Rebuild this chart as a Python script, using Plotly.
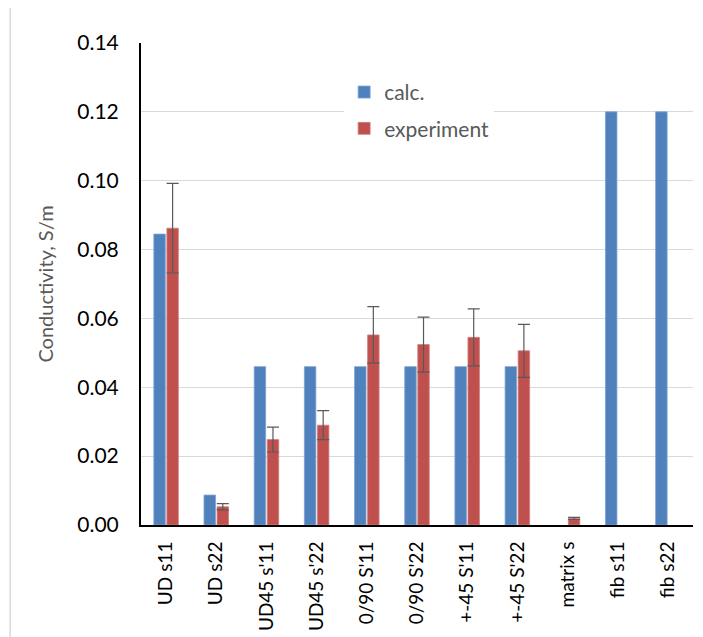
import plotly.graph_objects as go

categories = ["UD s11", "UD s22", "UD45 s'11", "UD45 s'22", "0/90 S'11", "0/90 S'22",
              "+-45 S'11", "+-45 S'22", "matrix s", "fib s11", "fib s22"]
calc = [0.0845, 0.0087, 0.046, 0.046, 0.046, 0.046, 0.046, 0.046, None, 0.12, 0.12]
experiment = [0.0862, 0.0053, 0.0248, 0.029, 0.0552, 0.0524, 0.0545, 0.0506, 0.0019, None, None]
exp_err = [0.013, 0.0009, 0.0036, 0.0042, 0.0082, 0.008, 0.0083, 0.0077, 0.0003, None, None]
y_ticks = [0, 0.02, 0.04, 0.06, 0.08, 0.10, 0.12, 0.14]
y_ticklabels = ["0.00", "0.02", "0.04", "0.06", "0.08", "0.10", "0.12", "0.14"]

FONT = "Lato, Open Sans, sans-serif"

fig = go.Figure()
fig.add_trace(go.Bar(
    x=categories, y=calc, name="calc.", legendgroup="a",
    marker=dict(color="#4F81BD", line=dict(color="#7FA1D0", width=0.8)),
))
fig.add_trace(go.Bar(
    x=categories, y=experiment, name="experiment", legendgroup="b",
    marker=dict(color="#C0504D", line=dict(color="#D07F7D", width=0.8)),
    error_y=dict(type="data", array=exp_err, visible=True, color="#595959",
                 thickness=1.2, width=6),
))

fig.update_layout(
    width=695, height=629,
    margin=dict(l=133, r=10, t=35, b=112, autoexpand=False),
    paper_bgcolor="white", plot_bgcolor="white",
    barmode="group", bargap=0.48, bargroupgap=0.12,
    font=dict(family=FONT, color="black"),
    legend=dict(
        x=0.368, y=0.94, xanchor="left", yanchor="top",
        bgcolor="white", font=dict(size=21, color="#595959", family=FONT),
        tracegroupgap=6, traceorder="grouped",
        itemwidth=30,
    ),
    showlegend=True,
    shapes=[dict(type="rect", xref="paper", yref="paper",
                 x0=-0.237, x1=1.2, y0=-0.4, y1=1.075,
                 line=dict(color="#D9D9D9", width=1.5), fillcolor="rgba(0,0,0,0)",
                 layer="below")],
)

fig.update_xaxes(
    type="category", tickangle=-90, automargin=False,
    tickfont=dict(size=19, color="black", family=FONT),
    showline=True, linecolor="black", linewidth=2,
    showgrid=False, ticks="", ticklabelstandoff=7,
)
fig.update_yaxes(
    range=[0, 0.14], tickvals=y_ticks, ticktext=y_ticklabels, automargin=False,
    tickfont=dict(size=21, color="black", family=FONT),
    showline=True, linecolor="black", linewidth=2,
    showgrid=True, gridcolor="#D9D9D9", gridwidth=1,
    zeroline=False, ticks="", ticklabelstandoff=16,
    title=dict(text="Conductivity, S/m", font=dict(size=20, color="#595959", family=FONT),
               standoff=18),
)

fig.write_html("out.html")
